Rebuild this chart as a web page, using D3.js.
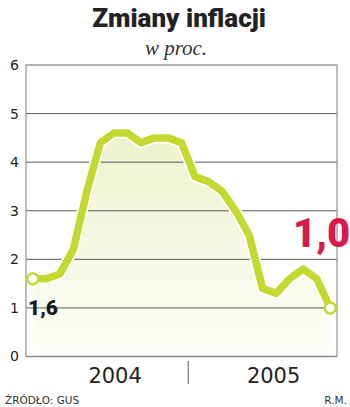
<!DOCTYPE html>
<html>
<head>
<meta charset="utf-8">
<script src="https://cdn.jsdelivr.net/npm/d3@7"></script>
<style>
  html, body { margin: 0; padding: 0; background: #fff; }
  svg { display: block; }
</style>
</head>
<body>
<svg id="chart" width="350" height="407"></svg>
<script>
// Monthly CPI inflation (y/y, %), Jan 2004 – Nov 2005
const months = ["2004-01","2004-02","2004-03","2004-04","2004-05","2004-06","2004-07","2004-08","2004-09","2004-10","2004-11","2004-12",
                "2005-01","2005-02","2005-03","2005-04","2005-05","2005-06","2005-07","2005-08","2005-09","2005-10","2005-11"];
const inflation = [1.6, 1.6, 1.7, 2.2, 3.4, 4.4, 4.6, 4.6, 4.4, 4.5, 4.5, 4.4,
                   3.7, 3.6, 3.4, 3.0, 2.5, 1.4, 1.3, 1.6, 1.8, 1.6, 1.0];
const yearLabels = ["2004", "2005"];
const yTicks = [0, 1, 2, 3, 4, 5, 6];
const startLabel = "1,6";
const endLabel = "1,0";

const svg = d3.select("#chart");
const plotL = 26, plotR = 337, plotT = 65, plotB = 356.5;

const x = d3.scalePoint().domain(months).range([plotL, plotR]).padding(0.5);
const step = x.step();
const y = d3.scaleLinear().domain([0, 6]).range([plotB, plotT]);

const data = months.map((m, i) => ({ m, v: inflation[i] }));

// gradient and soft edge for the area under the line
const defs = svg.append("defs");
const grad = defs.append("linearGradient").attr("id", "fillGrad")
  .attr("x1", 0).attr("y1", 0).attr("x2", 0).attr("y2", 1);
grad.append("stop").attr("offset", "0%").attr("stop-color", "#ecf2cb");
grad.append("stop").attr("offset", "50%").attr("stop-color", "#f5f8e2");
grad.append("stop").attr("offset", "100%").attr("stop-color", "#fdfdf6");
defs.append("filter").attr("id", "soft")
  .attr("x", "-10%").attr("y", "-10%").attr("width", "120%").attr("height", "120%")
  .append("feGaussianBlur").attr("stdDeviation", 2);

// title
svg.append("text")
  .attr("x", 179).attr("y", 27)
  .attr("text-anchor", "middle")
  .attr("font-family", "Roboto, 'Liberation Sans', sans-serif")
  .attr("font-weight", 900)
  .attr("font-size", 26)
  .attr("fill", "#222")
  .text("Zmiany inflacji");

svg.append("text")
  .attr("x", 176).attr("y", 55)
  .attr("text-anchor", "middle")
  .attr("font-family", "'Liberation Serif', 'DejaVu Serif', serif")
  .attr("font-style", "italic")
  .attr("font-size", 21)
  .attr("fill", "#333")
  .text("w proc.");

// area under the line
const area = d3.area()
  .x(d => x(d.m))
  .y0(y(0.1))
  .y1(d => y(d.v))
  .curve(d3.curveLinear);
svg.append("path")
  .datum(data)
  .attr("d", area)
  .attr("fill", "url(#fillGrad)")
  .attr("filter", "url(#soft)");

// horizontal grid
svg.append("g")
  .selectAll("line")
  .data(yTicks.filter(t => t > 0 && t < 6))
  .join("line")
  .attr("x1", plotL).attr("x2", plotR)
  .attr("y1", d => y(d)).attr("y2", d => y(d))
  .attr("stroke", "#5a5a5a")
  .attr("stroke-width", 1);

// frame
svg.append("path")
  .attr("d", `M${plotL},${plotB}V${plotT}H${plotR}V${plotB}`)
  .attr("fill", "none")
  .attr("stroke", "#9a9a9a")
  .attr("stroke-width", 1.3);
svg.append("line")
  .attr("x1", plotL).attr("x2", plotR)
  .attr("y1", plotB).attr("y2", plotB)
  .attr("stroke", "#8a8a8a")
  .attr("stroke-width", 1.3);

// y axis labels
const yAxis = d3.axisLeft(y).tickValues(yTicks).tickSize(0).tickPadding(7).tickFormat(d3.format("d"));
const gy = svg.append("g").attr("transform", `translate(${plotL},0)`).call(yAxis);
gy.select(".domain").remove();
gy.selectAll("text")
  .attr("font-family", "'DejaVu Sans', sans-serif")
  .attr("font-size", 14)
  .attr("fill", "#222");

// year labels and divider
const divX = x(months[12]) - step / 2;
svg.append("g").selectAll("text")
  .data(yearLabels)
  .join("text")
  .attr("x", (d, i) => i === 0 ? (plotL + divX) / 2 + 8 : (divX + plotR) / 2 + 11)
  .attr("y", 383)
  .attr("text-anchor", "middle")
  .attr("font-family", "'DejaVu Sans', sans-serif")
  .attr("font-size", 21)
  .attr("fill", "#222")
  .text(d => d);
svg.append("line")
  .attr("x1", divX).attr("x2", divX)
  .attr("y1", 361).attr("y2", 384)
  .attr("stroke", "#777")
  .attr("stroke-width", 1.2);

// line with white halo
const line = d3.line().x(d => x(d.m)).y(d => y(d.v)).curve(d3.curveLinear);
svg.append("path").datum(data).attr("d", line)
  .attr("fill", "none").attr("stroke", "#fff").attr("stroke-width", 11)
  .attr("stroke-linejoin", "round");
svg.append("path").datum(data).attr("d", line)
  .attr("fill", "none").attr("stroke", "#c4d930").attr("stroke-width", 7.5)
  .attr("stroke-linejoin", "round");

// endpoints
svg.append("g").selectAll("circle")
  .data([data[0], data[data.length - 1]])
  .join("circle")
  .attr("cx", d => x(d.m)).attr("cy", d => y(d.v))
  .attr("r", 5.5)
  .attr("fill", "#fff")
  .attr("stroke", "#c4d930")
  .attr("stroke-width", 2.5);

// value labels
svg.append("text")
  .attr("x", 28).attr("y", 315)
  .attr("font-family", "Roboto, 'Liberation Sans', sans-serif")
  .attr("font-weight", 900)
  .attr("font-size", 21)
  .attr("fill", "#1a1a1a")
  .text(startLabel);
svg.append("text")
  .attr("x", 293).attr("y", 247)
  .attr("font-family", "Roboto, 'Liberation Sans', sans-serif")
  .attr("font-weight", 900)
  .attr("font-size", 40)
  .attr("fill", "#d8194e")
  .text(endLabel);

// footer
svg.append("text")
  .attr("x", 5).attr("y", 404)
  .attr("font-family", "'DejaVu Sans', sans-serif")
  .attr("font-size", 10.5)
  .attr("fill", "#333")
  .text("ŹRÓDŁO: GUS");
svg.append("text")
  .attr("x", 347).attr("y", 404)
  .attr("text-anchor", "end")
  .attr("font-family", "'DejaVu Sans', sans-serif")
  .attr("font-size", 10.5)
  .attr("fill", "#333")
  .text("R.M.");
</script>
</body>
</html>
